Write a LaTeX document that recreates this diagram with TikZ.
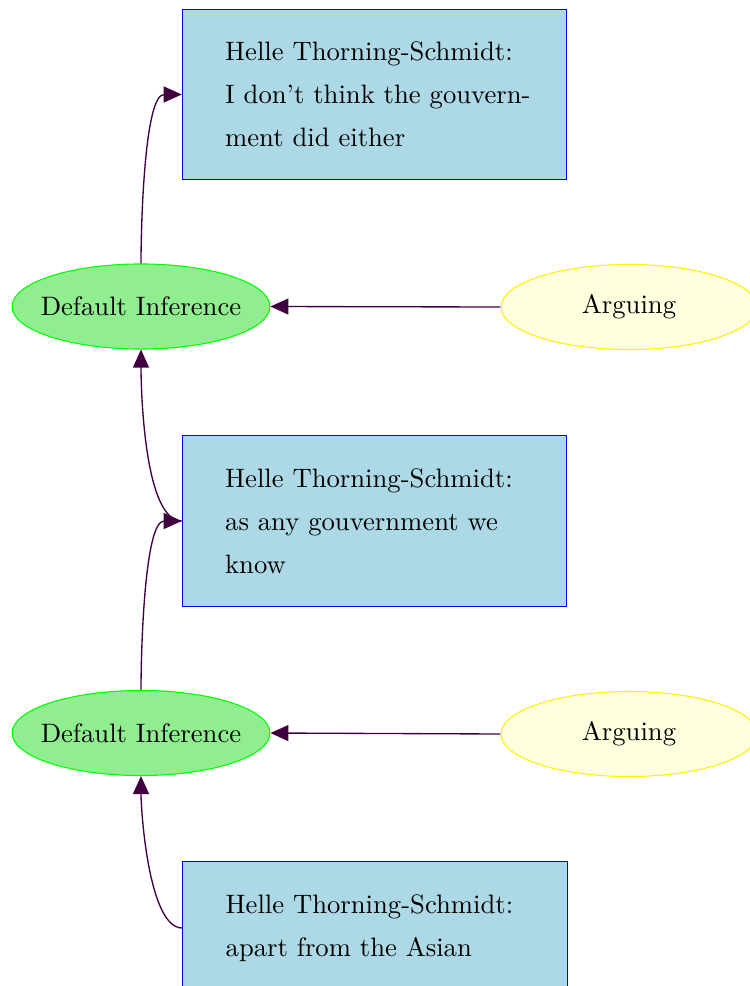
\documentclass[tikz,border=0pt]{standalone}
\usetikzlibrary{shapes.geometric,arrows.meta}
\definecolor{arrowpurple}{rgb}{0.25,0,0.25}
\definecolor{boxblue}{RGB}{173,216,230}
\definecolor{infgreen}{RGB}{144,238,144}
\definecolor{argyellow}{RGB}{255,255,224}
\tikzset{
  speech/.style={rectangle, draw=blue, fill=boxblue, text width=112pt,
    inner xsep=16.1pt, inner ysep=12.3pt, align=left,
    font=\linespread{1.344}\selectfont},
  inference/.style={ellipse, draw=green, fill=infgreen, minimum width=96pt,
    minimum height=31.9pt, inner xsep=-3.4pt, inner ysep=0pt},
  arguing/.style={ellipse, draw=yellow, fill=argyellow, minimum width=96pt,
    minimum height=31.9pt, inner xsep=-3.4pt, inner ysep=0pt},
  arr/.style={draw=arrowpurple, line width=0.5pt,
    -{Triangle[length=6.75pt,width=6pt]}},
  rise/.style={out=90, in=180, looseness=0.55},
  drop/.style={out=180, in=-90, looseness=0.55},
}
\begin{document}
\begin{tikzpicture}[x=0.375pt,y=-0.375pt]
\useasboundingbox (0,0) rectangle (750,986);

% statements
\node[speech] (b1) at (374.5,94.5) {\mbox{Helle Thorning-Schmidt:}\\\mbox{I don't think the gouvern-}\\\mbox{ment did either}};
\node[speech] (b2) at (374.5,521) {\mbox{Helle Thorning-Schmidt:}\\\mbox{as any gouvernment we}\\\mbox{know}};
\node[speech] (b3) at (375,928) {\mbox{Helle Thorning-Schmidt:}\\\mbox{apart from the Asian}};

% inference nodes
\node[inference] (d1) at (141,306.5) {Default Inference};
\node[inference] (d2) at (141,733) {Default Inference};

% argumentation schemes
\node[arguing] (a1) at (629,307) {Arguing};
\node[arguing] (a2) at (629,734) {Arguing};

% connectors
\draw[arr] (d1.north) to[rise] (b1.west);
\draw[arr] (a1.west) -- (d1.east);
\draw[arr] (b2.west) to[drop] (d1.south);
\draw[arr] (d2.north) to[rise] (b2.west);
\draw[arr] (a2.west) -- (d2.east);
\draw[arr] (b3.west) to[drop] (d2.south);
\end{tikzpicture}
\end{document}
